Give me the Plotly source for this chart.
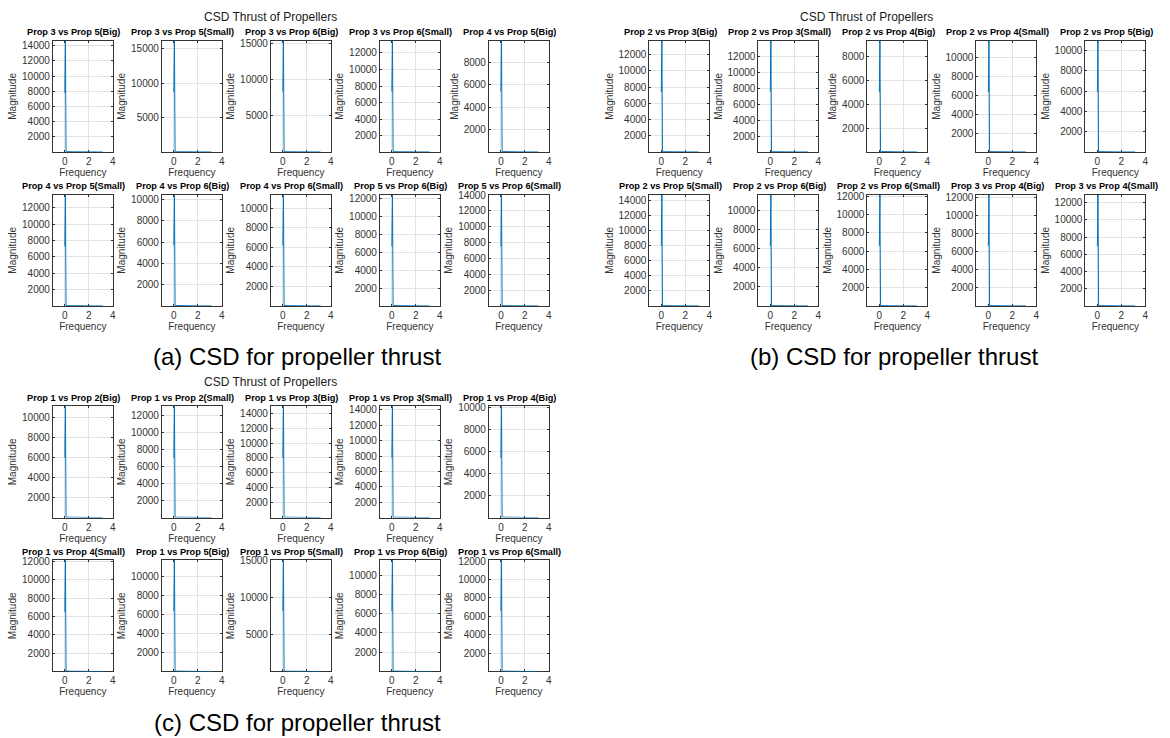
import plotly.graph_objects as go

W, H = 1170, 738
FONT = "Liberation Sans, Arial, sans-serif"
LINE_BLUE = "#0072BD"

# Shared frequency grid (rad/sample) and the low-level tail of each spectrum
freq = [0, 0.05, 0.1, 0.4, 0.8, 1.2, 1.6, 2.0, 2.4, 2.8, 3.14]
tail = [45, 30, 22, 18, 15, 13, 12, 11, 10]

# Panel (a)
titles_a = ["Prop 3 vs Prop 5(Big)", "Prop 3 vs Prop 5(Small)", "Prop 3 vs Prop 6(Big)",
            "Prop 3 vs Prop 6(Small)", "Prop 4 vs Prop 5(Big)", "Prop 4 vs Prop 5(Small)",
            "Prop 4 vs Prop 6(Big)", "Prop 4 vs Prop 6(Small)", "Prop 5 vs Prop 6(Big)",
            "Prop 5 vs Prop 6(Small)"]
peak_a = [14650, 16160, 15400, 13480, 9910, 13620, 10440, 11360, 12370, 14050]
dc_a = [7800, 8700, 8390, 7340, 5400, 7300, 5700, 6160, 6660, 7560]
dtick_a = [2000, 5000, 5000, 2000, 2000, 2000, 2000, 2000, 2000, 2000]

# Panel (b)
titles_b = ["Prop 2 vs Prop 3(Big)", "Prop 2 vs Prop 3(Small)", "Prop 2 vs Prop 4(Big)",
            "Prop 2 vs Prop 4(Small)", "Prop 2 vs Prop 5(Big)", "Prop 2 vs Prop 5(Small)",
            "Prop 2 vs Prop 6(Big)", "Prop 2 vs Prop 6(Small)", "Prop 3 vs Prop 4(Big)",
            "Prop 3 vs Prop 4(Small)"]
peak_b = [13710, 13960, 9300, 11750, 10950, 14750, 11640, 12190, 12330, 12920]
dc_b = [7400, 7600, 5000, 6330, 5930, 8000, 6300, 6600, 6680, 6960]
dtick_b = [2000, 2000, 2000, 2000, 2000, 2000, 2000, 2000, 2000, 2000]

# Panel (c)
titles_c = ["Prop 1 vs Prop 2(Big)", "Prop 1 vs Prop 2(Small)", "Prop 1 vs Prop 3(Big)",
            "Prop 1 vs Prop 3(Small)", "Prop 1 vs Prop 4(Big)", "Prop 1 vs Prop 4(Small)",
            "Prop 1 vs Prop 5(Big)", "Prop 1 vs Prop 5(Small)", "Prop 1 vs Prop 6(Big)",
            "Prop 1 vs Prop 6(Small)"]
peak_c = [11160, 13090, 14940, 14480, 10120, 12110, 11760, 15100, 11550, 12100]
dc_c = [6000, 7000, 8000, 7760, 5420, 6500, 6390, 8200, 6270, 6600]
dtick_c = [2000, 2000, 2000, 2000, 2000, 2000, 2000, 5000, 2000, 2000]

suptitle = "CSD Thrust of Propellers"
captions = ["(a) CSD for propeller thrust", "(b) CSD for propeller thrust",
            "(c) CSD for propeller thrust"]

panels = [
    (0, 0, titles_a, peak_a, dc_a, dtick_a),
    (598, 0, titles_b, peak_b, dc_b, dtick_b),
    (0, 368, titles_c, peak_c, dc_c, dtick_c),
]

# pixel geometry of each small axes
AX_LEFT, AX_TOP, COL_STEP, ROW_STEP, AX_W, AX_H = 53, 36, 109.3, 155, 60, 112


def px_x(v):
    return v / W


def px_y(v):
    return 1 - v / H


fig = go.Figure()
annotations = []
layout_axes = {}
n = 0
for p_idx, (ox, oy, titles, peaks, dcs, dticks) in enumerate(panels):
    annotations.append(dict(text=suptitle, x=px_x(ox + 271), y=px_y(oy + 12),
                            xref="paper", yref="paper", showarrow=False,
                            xanchor="center", yanchor="middle",
                            font=dict(family=FONT, size=12, color="#1a1a1a")))
    annotations.append(dict(text=captions[p_idx], x=px_x(ox + 298), y=px_y(oy + 354),
                            xref="paper", yref="paper", showarrow=False,
                            xanchor="center", yanchor="middle",
                            font=dict(family=FONT, size=24, color="#000000")))
    for k in range(10):
        n += 1
        row, col = divmod(k, 5)
        left = ox + AX_LEFT + col * COL_STEP
        top = oy + AX_TOP + row * ROW_STEP
        mags = [dcs[k], peaks[k]] + tail
        xs = "x" if n == 1 else f"x{n}"
        ys = "y" if n == 1 else f"y{n}"
        fig.add_trace(go.Scatter(x=freq, y=mags, mode="lines",
                                 line=dict(color=LINE_BLUE, width=1),
                                 xaxis=xs, yaxis=ys, showlegend=False,
                                 hoverinfo="skip"))
        common = dict(showline=True, mirror="ticks", linecolor="#333333", linewidth=1,
                      ticks="inside", ticklen=2, tickcolor="#333333",
                      showgrid=True, gridcolor="#e3e3e3", gridwidth=1,
                      zeroline=False, layer="below traces",
                      tickfont=dict(family=FONT, size=10, color="#333333"))
        xkey = "xaxis" if n == 1 else f"xaxis{n}"
        ykey = "yaxis" if n == 1 else f"yaxis{n}"
        layout_axes[xkey] = dict(
            domain=[px_x(left), px_x(left + AX_W)], anchor=ys,
            range=[-1, 4], tickvals=[0, 2, 4],
            title=dict(text="Frequency", standoff=1,
                       font=dict(family=FONT, size=10, color="#333333")),
            **common)
        layout_axes[ykey] = dict(
            domain=[px_y(top + AX_H), px_y(top)], anchor=xs,
            range=[min(mags), max(mags)], tick0=0, dtick=dticks[k], tickformat="d",
            title=dict(text="Magnitude", standoff=3,
                       font=dict(family=FONT, size=10, color="#333333")),
            **common)
        annotations.append(dict(text="<b>" + titles[k] + "</b>",
                                x=px_x(left + AX_W / 2 - 9), y=px_y(top - 8.5),
                                xref="paper", yref="paper", showarrow=False,
                                xanchor="center", yanchor="middle",
                                font=dict(family=FONT, size=9.2, color="#000000")))

fig.update_layout(width=W, height=H, margin=dict(l=0, r=0, t=0, b=0),
                  paper_bgcolor="white", plot_bgcolor="white",
                  annotations=annotations, **layout_axes)

fig.write_html("out.html")
